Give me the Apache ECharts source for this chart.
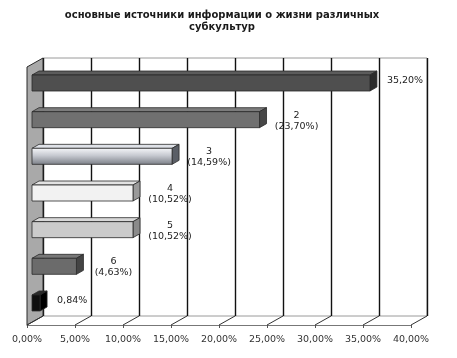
<!DOCTYPE html>
<html><head><meta charset="utf-8">
<script src="https://cdn.jsdelivr.net/npm/echarts@6/dist/echarts.min.js"></script>
<style>html,body{margin:0;padding:0;background:#fff}#c{width:457px;height:358px}</style>
</head><body><div id="c"></div>
<script>
const titleText = 'основные источники информации о жизни различных\nсубкультур';
const categories = ['1','2','3','4','5','6','7'];
const values = [35.20, 23.70, 14.59, 10.52, 10.52, 4.63, 0.84];
const showNumber = [false, true, true, true, true, true, false];
const ticks = [0,5,10,15,20,25,30,35,40];

const palette = [
  {front:'#4f4f4f', top:'#5c5c5c', side:'#2c2c2c'},
  {front:'#707070', top:'#7c7c7c', side:'#474747'},
  {front:{type:'linear',x:0,y:0,x2:0,y2:1,colorStops:[{offset:0,color:'#f6f7fa'},{offset:0.45,color:'#c6c9d0'},{offset:1,color:'#7a7e86'}]}, top:'#dfe2e8', side:'#5a5e66'},
  {front:'#f2f2f2', top:'#e2e2e2', side:'#9a9a9a'},
  {front:'#cbcbcb', top:'#d8d8d8', side:'#8a8a8a'},
  {front:'#6b6b6b', top:'#787878', side:'#444444'},
  {front:'#0e0e0e', top:'#2a2a2a', side:'#000000'}
];
const fmt = v => v.toFixed(2).replace('.', ',') + '%';
const DEPTH = [16, -9];
const BAR = {h:16, dx:7, dy:-4};
const FONT = 'DejaVu Sans, Liberation Sans, Arial';

const chart = echarts.init(document.getElementById('c'), null, {renderer:'canvas'});
chart.setOption({
  animation:false,
  backgroundColor:'#fff',
  graphic:[{type:'text', x:222, y:9, style:{text:titleText, align:'center', verticalAlign:'top', font:'bold 10px ' + FONT, lineHeight:12, fill:'#1a1a1a'}}],
  grid:[
    {left:43, right:30, top:58, bottom:42, show:true, borderColor:'#9a9a9a', borderWidth:1, backgroundColor:'#fff'},
    {left:27, right:46, top:67, bottom:33},
    {left:32, right:41, top:64.7, bottom:36.7}
  ],
  xAxis:[
    {gridIndex:0, type:'value', min:0, max:40, interval:5, axisLine:{show:false}, axisTick:{show:false}, axisLabel:{show:false}, splitLine:{show:true, lineStyle:{color:'#111', width:1.4}}},
    {gridIndex:1, type:'value', min:0, max:40, interval:5, axisLine:{show:true, lineStyle:{color:'#777', width:1}}, axisTick:{show:true, length:3, lineStyle:{color:'#555'}}, axisLabel:{formatter:fmt, fontSize:9.5, color:'#333', margin:10, fontFamily:FONT}, splitLine:{show:false}},
    {gridIndex:2, type:'value', min:0, max:40, show:false}
  ],
  yAxis:[
    {gridIndex:0, type:'value', show:false},
    {gridIndex:1, type:'value', min:0, max:1, show:false},
    {gridIndex:2, type:'category', data:categories, inverse:true, show:false}
  ],
  series:[
    {type:'custom', xAxisIndex:1, yAxisIndex:1, z:1, data:[[0,0]], silent:true,
     renderItem(params, api){
       const b = api.coord([0,0]), t = api.coord([0,1]);
       return {type:'polygon', shape:{points:[b, t, [t[0]+DEPTH[0], t[1]+DEPTH[1]], [b[0]+DEPTH[0], b[1]+DEPTH[1]]]},
               style:{fill:'#a9a9a9', stroke:'#2a2a2a', lineWidth:1}};
     }},
    {type:'custom', xAxisIndex:1, yAxisIndex:1, z:1, data:ticks.map(v=>[v,0]), silent:true,
     renderItem(params, api){
       const p = api.coord([api.value(0), 0]);
       return {type:'line', shape:{x1:p[0], y1:p[1], x2:p[0]+DEPTH[0], y2:p[1]+DEPTH[1]}, style:{stroke:'#333', lineWidth:1}};
     }},
    {type:'custom', xAxisIndex:2, yAxisIndex:2, z:3, encode:{x:0, y:1},
     data: values.map((v,i)=>[v, i]), silent:true,
     renderItem(params, api){
       const v = api.value(0), i = api.value(1);
       const p0 = api.coord([0, i]), p1 = api.coord([v, i]);
       const x0 = p0[0], x1 = p1[0], yT = p0[1]-BAR.h/2, yB = p0[1]+BAR.h/2;
       const c = palette[i];
       const st = {stroke:'#2a2a2a', lineWidth:0.8};
       const twoLine = showNumber[i];
       const label = twoLine ? categories[i] + '\n(' + fmt(v) + ')' : fmt(v);
       return {type:'group', children:[
         {type:'polygon', shape:{points:[[x0,yT],[x1,yT],[x1+BAR.dx,yT+BAR.dy],[x0+BAR.dx,yT+BAR.dy]]}, style:Object.assign({fill:c.top}, st)},
         {type:'polygon', shape:{points:[[x1,yT],[x1+BAR.dx,yT+BAR.dy],[x1+BAR.dx,yB+BAR.dy],[x1,yB]]}, style:Object.assign({fill:c.side}, st)},
         {type:'rect', shape:{x:x0, y:yT, width:x1-x0, height:BAR.h}, style:Object.assign({fill:c.front}, st)},
         {type:'text', style:{text:label, x: twoLine ? x1+37 : x1+17, y: twoLine ? p0[1]+1 : p0[1]-2, align: twoLine?'center':'left', verticalAlign:'middle',
           fontSize:9.5, lineHeight:11, fontFamily:FONT, fill:'#222'}}
       ]};
     }}
  ]
});
</script></body></html>
